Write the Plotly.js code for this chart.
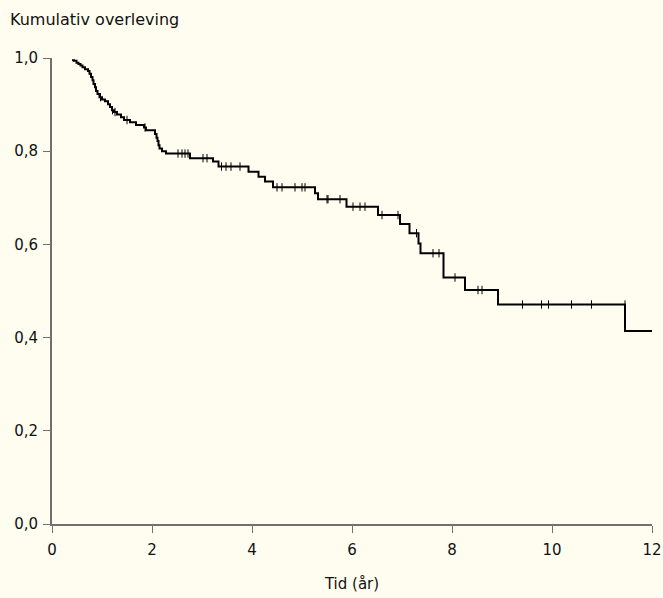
<!DOCTYPE html>
<html>
<head>
<meta charset="utf-8">
<script src="https://cdn.plot.ly/plotly-3.0.1.min.js"></script>
<style>html,body{margin:0;padding:0;background:#FFFDF0;}#chart{width:663px;height:598px;}</style>
</head>
<body>
<div id="chart"></div>
<script>
// Step points of the Kaplan-Meier curve (time in years, cumulative survival)
var stepTime = [0.40,0.44,0.49,0.53,0.57,0.61,0.66,0.72,0.75,0.78,0.81,0.83,0.86,0.88,0.91,0.95,1.00,1.06,1.12,1.16,1.20,1.24,1.30,1.38,1.44,1.56,1.68,1.84,1.88,2.06,2.09,2.11,2.13,2.15,2.20,2.28,2.76,3.22,3.33,3.93,4.13,4.26,4.42,5.26,5.32,5.89,6.52,6.96,7.15,7.33,7.37,7.83,8.26,8.92,11.46,12.00];
var stepSurv = [0.995,0.994,0.990,0.987,0.984,0.980,0.976,0.972,0.966,0.959,0.952,0.944,0.937,0.929,0.923,0.916,0.911,0.907,0.901,0.895,0.888,0.884,0.879,0.873,0.867,0.862,0.856,0.851,0.845,0.837,0.829,0.822,0.813,0.806,0.800,0.795,0.785,0.778,0.767,0.756,0.745,0.735,0.7225,0.710,0.697,0.681,0.663,0.644,0.624,0.602,0.581,0.529,0.502,0.471,0.414,0.414];
// Censored observations
var censorTime = [0.97,1.21,1.26,1.50,1.86,2.52,2.60,2.66,2.72,3.02,3.10,3.39,3.48,3.58,3.76,4.50,4.60,4.86,5.00,5.06,5.50,5.52,5.76,6.02,6.16,6.26,6.60,6.92,7.29,7.62,7.74,8.06,8.52,8.60,9.41,9.79,9.93,10.39,10.79,11.46];
var censorSurv = [0.916,0.888,0.884,0.867,0.851,0.795,0.795,0.795,0.795,0.785,0.785,0.767,0.767,0.767,0.767,0.7225,0.7225,0.7225,0.7225,0.7225,0.697,0.697,0.697,0.681,0.681,0.681,0.663,0.663,0.624,0.581,0.581,0.529,0.502,0.502,0.471,0.471,0.471,0.471,0.471,0.471];
var xTicks = [0,2,4,6,8,10,12];
var yTicks = [0,0.2,0.4,0.6,0.8,1.0];
var yTickText = ['0,0','0,2','0,4','0,6','0,8','1,0'];

var traces = [
  {x: stepTime, y: stepSurv, type: 'scatter', mode: 'lines', line: {shape: 'hv', color: '#000', width: 2}, hoverinfo: 'skip'},
  {x: censorTime, y: censorSurv, type: 'scatter', mode: 'markers', marker: {symbol: 'line-ns', size: 6, line: {color: '#000', width: 1}}, hoverinfo: 'skip'}
];
var layout = {
  width: 663, height: 598,
  paper_bgcolor: '#FFFDF0', plot_bgcolor: '#FFFDF0',
  margin: {l: 52, r: 11, t: 58, b: 74},
  showlegend: false,
  font: {family: 'DejaVu Sans, sans-serif', size: 15, color: '#111'},
  annotations: [
    {text: 'Kumulativ overleving', xref: 'paper', yref: 'paper', x: -0.073, y: 1.058, xanchor: 'left', yanchor: 'bottom', showarrow: false, font: {size: 16, color: '#111'}}
  ],
  xaxis: {
    range: [0, 12], tickvals: xTicks, ticktext: xTicks.map(String),
    showline: true, linecolor: '#707070', linewidth: 2, showgrid: false, zeroline: false,
    ticks: 'outside', ticklen: 7, tickcolor: '#707070', tickwidth: 1, ticklabelstandoff: 4,
    title: {text: 'Tid (år)', standoff: 20, font: {size: 15, color: '#111'}}
  },
  yaxis: {
    range: [0, 1], tickvals: yTicks, ticktext: yTickText,
    showline: true, linecolor: '#707070', linewidth: 2, showgrid: false, zeroline: false,
    ticks: 'outside', ticklen: 7, tickcolor: '#707070', tickwidth: 1, ticklabelstandoff: 2
  }
};
Plotly.newPlot('chart', traces, layout, {displayModeBar: false, staticPlot: true});
</script>
</body>
</html>
